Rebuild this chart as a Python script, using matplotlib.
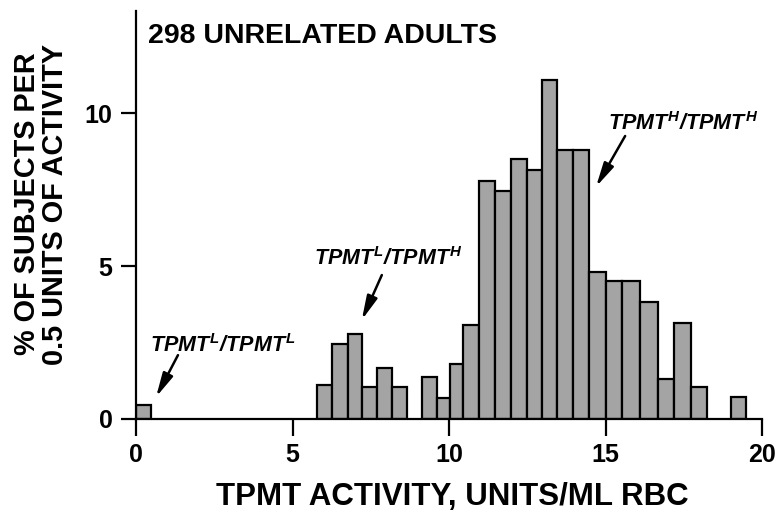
import matplotlib
matplotlib.use("Agg")
import matplotlib.pyplot as plt

# ---- data ----
bin_lo = [0.00, 5.77, 6.27, 6.76, 7.23, 7.69, 8.17, 9.13, 9.60, 10.03, 10.45,
          10.96, 11.47, 11.97, 12.48, 12.96, 13.44, 13.94, 14.47, 15.00, 15.53,
          16.09, 16.66, 17.19, 17.71, 18.99]
bin_hi = [0.48, 6.27, 6.76, 7.23, 7.69, 8.17, 8.65, 9.60, 10.03, 10.45, 10.96,
          11.47, 11.97, 12.48, 12.96, 13.44, 13.94, 14.47, 15.00, 15.53, 16.09,
          16.66, 17.19, 17.71, 18.24, 19.47]
pct = [0.46, 1.11, 2.45, 2.77, 1.06, 1.66, 1.06, 1.36, 0.70, 1.79, 3.08,
       7.79, 7.46, 8.50, 8.14, 11.08, 8.80, 8.80, 4.82, 4.52, 4.52,
       3.84, 1.32, 3.14, 1.05, 0.73]
xticks = [0, 5, 10, 15, 20]
yticks = [0, 5, 10]

plt.rcParams['font.family'] = ['Liberation Sans', 'DejaVu Sans']
plt.rcParams['font.weight'] = 'bold'
plt.rcParams['mathtext.fontset'] = 'custom'
plt.rcParams['mathtext.it'] = 'Liberation Sans:italic:bold'
plt.rcParams['mathtext.rm'] = 'Liberation Sans:bold'
plt.rcParams['mathtext.bf'] = 'Liberation Sans:bold'

fig = plt.figure(figsize=(7.76, 5.14), dpi=100)
ax = fig.add_axes([136/776, 1-419/514, (762.3-136)/776, (419-11)/514])

widths = [h - l for l, h in zip(bin_lo, bin_hi)]
ax.bar(bin_lo, pct, width=widths, align='edge', color='#a4a4a4',
       edgecolor='black', linewidth=1.6, zorder=2)

ax.set_xlim(0, 20)
ax.set_ylim(0, 13.35)
ax.set_xticks(xticks)
ax.set_yticks(yticks)
for s in ['top', 'right']:
    ax.spines[s].set_visible(False)
for s in ['left', 'bottom']:
    ax.spines[s].set_linewidth(1.6)
ax.tick_params(axis='x', length=12, width=1.6, pad=5, labelsize=18)
ax.tick_params(axis='y', length=11, width=1.6, pad=6, labelsize=18)
for lab in ax.get_xticklabels() + ax.get_yticklabels():
    lab.set_fontweight('bold')

fig.text(148/776, 1-43/514, '298 UNRELATED ADULTS', fontsize=20.5,
         fontweight='bold', ha='left', va='baseline')
fig.text(452/776, 1-505/514, 'TPMT ACTIVITY, UNITS/ML RBC', fontsize=22.5,
         fontweight='bold', ha='center', va='baseline')
fig.text(41/776, 0.603, '% OF SUBJECTS PER\n0.5 UNITS OF ACTIVITY',
         fontsize=20.8, fontweight='bold', rotation=90, ha='center',
         va='center', multialignment='center', linespacing=1.0)

arrow_kw = dict(arrowstyle='-|>,head_length=0.8,head_width=0.18',
                lw=1.8, color='black', shrinkA=0, shrinkB=0,
                mutation_scale=18)

def geno(a, b):
    return (r'$\mathit{TPMT}^{\mathit{%s}}$/$\mathit{TPMT}^{\mathit{%s}}$'
            % (a, b))

txt_kw = dict(fontsize=15.5, ha='left', va='baseline', style='italic',
              fontweight='bold')

ax.text(0.45, 2.19, geno('L', 'L'), **txt_kw)
ax.annotate('', xy=(0.64, 0.72), xytext=(1.34, 2.09), arrowprops=arrow_kw)

ax.text(5.69, 5.04, geno('L', 'H'), **txt_kw)
ax.annotate('', xy=(7.21, 3.24), xytext=(7.85, 4.71), arrowprops=arrow_kw)

ax.text(15.07, 9.45, geno('H', 'H'), **txt_kw)
ax.annotate('', xy=(14.69, 7.60), xytext=(15.62, 9.26), arrowprops=arrow_kw)

fig.savefig('out.png', dpi=100)
